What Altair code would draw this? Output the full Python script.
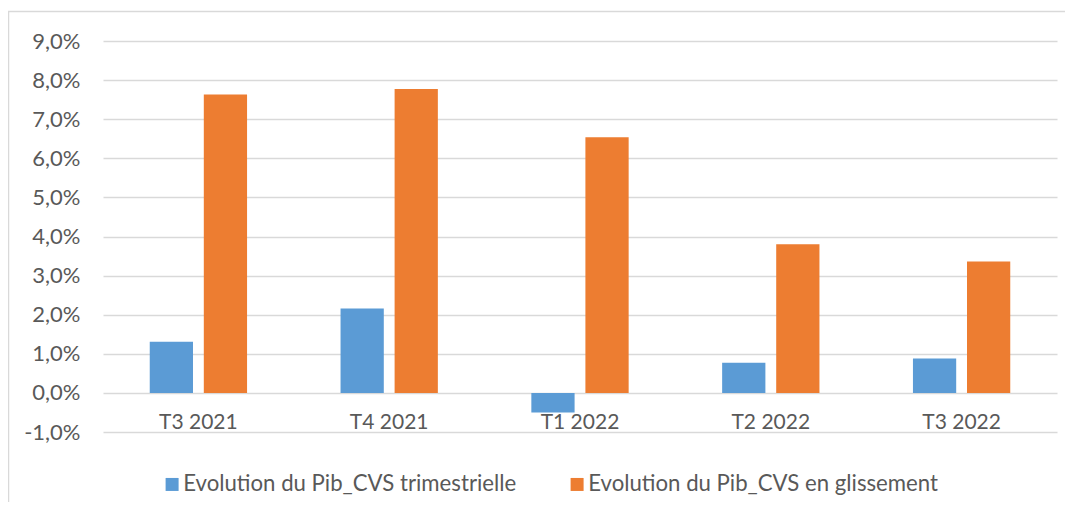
import altair as alt
import pandas as pd

categories = ["T3 2021", "T4 2021", "T1 2022", "T2 2022", "T3 2022"]
series_names = ["Evolution du Pib_CVS trimestrielle", "Evolution du Pib_CVS en glissement"]
trimestrielle = [1.31, 2.16, -0.50, 0.77, 0.88]
glissement = [7.63, 7.77, 6.54, 3.80, 3.36]
y_ticks = [-1, 0, 1, 2, 3, 4, 5, 6, 7, 8, 9]
colors = ["#5B9BD5", "#ED7D31"]

rows = []
for i, c in enumerate(categories):
    rows.append({"cat": c, "serie": series_names[0], "val": trimestrielle[i]})
    rows.append({"cat": c, "serie": series_names[1], "val": glissement[i]})
df = pd.DataFrame(rows)

FONT = "Lato"
TEXT = "#595959"
GRID = "#D9D9D9"
W, H = 954, 391

bars = alt.Chart(df).mark_bar().encode(
    x=alt.X(
        "cat:N",
        sort=categories,
        scale=alt.Scale(paddingInner=0.49, paddingOuter=0.245),
        axis=alt.Axis(
            title=None, labelAngle=0, domain=False, ticks=False, tickSize=0,
            labelPadding=19, offset=-H / 10, labelFont=FONT, labelFontSize=21,
            labelColor=TEXT, grid=False,
        ),
    ),
    xOffset=alt.XOffset(
        "serie:N", sort=series_names,
        scale=alt.Scale(paddingInner=0.2, paddingOuter=0),
    ),
    y=alt.Y(
        "val:Q",
        scale=alt.Scale(domain=[-1, 9], nice=False, zero=False),
        axis=alt.Axis(
            title=None, values=y_ticks, domain=False, ticks=False, tickSize=0,
            labelPadding=23, grid=True, gridColor=GRID, gridWidth=1.5,
            labelFont=FONT, labelFontSize=22, labelColor=TEXT,
            labelExpr="(datum.value < 0 ? '-' : '') + replace(format(abs(datum.value), '.1f'), '.', ',') + '%'",
        ),
    ),
    color=alt.Color(
        "serie:N",
        sort=series_names,
        scale=alt.Scale(domain=series_names, range=colors),
        legend=alt.Legend(
            title=None, orient="none", legendX=58, legendY=432,
            direction="horizontal", labelFont=FONT, labelFontSize=22.2,
            labelColor=TEXT, symbolType="square", symbolSize=169,
            symbolStrokeWidth=0, labelOffset=0, columnPadding=49,
            labelLimit=600, padding=0,
        ),
    ),
)

frame = alt.Chart(pd.DataFrame({"f": [0]})).mark_rect(
    fillOpacity=0, stroke=GRID, strokeWidth=1.5
).encode(
    x=alt.value(-94.5), x2=alt.value(1000), y=alt.value(-29.5), y2=alt.value(600)
)

chart = alt.layer(frame, bars).properties(
    width=W,
    height=H,
    padding={"left": 95, "top": 33, "right": 8, "bottom": 70},
    autosize=alt.AutoSizeParams(type="none"),
).configure_view(stroke=None)

chart.save("out.html", embed_options={"renderer": "svg", "actions": False})
